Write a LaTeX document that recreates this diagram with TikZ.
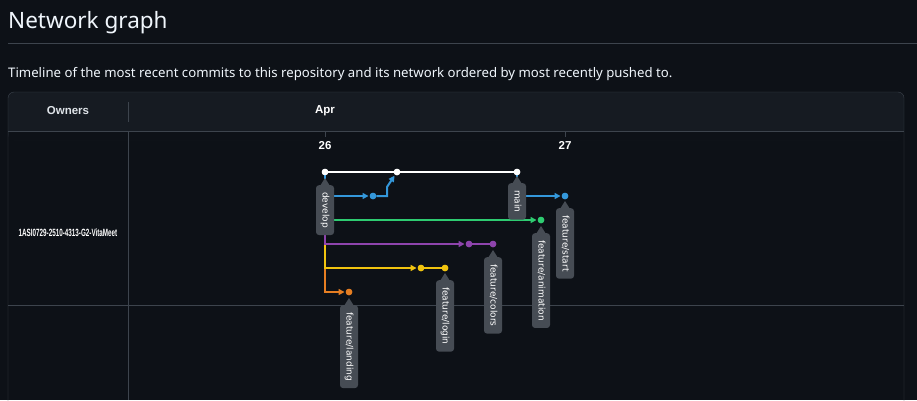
\documentclass[tikz,border=0pt]{standalone}
\usepackage{fontspec}
\setmainfont{Noto Sans}
\newfontfamily\arialfont{Liberation Sans}
\newfontfamily\tagfont{DejaVu Sans}
\usepackage{xcolor}
\usetikzlibrary{arrows.meta,positioning,calc}

\definecolor{pagebg}{HTML}{0D1117}
\definecolor{headbg}{HTML}{161B22}
\definecolor{gridline}{HTML}{3D444D}
\definecolor{tagfill}{HTML}{464C54}
\definecolor{txt}{HTML}{F0F6FC}
\definecolor{brblue}{HTML}{3498DB}
\definecolor{brgreen}{HTML}{2ECC71}
\definecolor{brpurple}{HTML}{8E44AD}
\definecolor{bryellow}{HTML}{F1C40F}
\definecolor{brorange}{HTML}{E67E22}

% little pointer on top of a branch tag
\newcommand{\tagtip}[1]{\fill[tagfill] ([xshift=-5pt,yshift=-1pt]#1.west) -- ([yshift=7pt]#1.west) -- ([xshift=5pt,yshift=-1pt]#1.west) -- cycle;}

\begin{document}
\begin{tikzpicture}[
    x=1pt, y=-1pt,
    every node/.style={text=txt},
    hdr/.style={
        font=\arialfont\bfseries\fontsize{11.5}{13}\selectfont,
        inner sep=0pt
    },
    commit/.style={
        circle,
        inner sep=0pt,
        minimum size=6.5pt
    },
    reftag/.style={
        fill=tagfill,
        rounded corners=3pt,
        rotate=-90,
        anchor=west,
        text=white,
        font=\tagfont\fontsize{9}{10}\selectfont,
        inner xsep=7pt,
        inner ysep=0pt,
        minimum height=18pt,
        text height=7pt,
        text depth=2pt
    },
    branch/.style={line width=2pt},
    arrow/.style={line width=2pt, -{Triangle[length=6pt,width=6pt]}, shorten >=1pt}
]

\useasboundingbox (0,0) rectangle (917,400);
\fill[pagebg] (0,0) rectangle (917,400);

% Page heading
\node[anchor=base west, inner sep=0pt, font=\fontsize{22.5}{28}\selectfont] (title) at (8,28) {Network graph};
\draw[gridline] (8,43) -- (917,43);
\node[anchor=base west, inner sep=0pt, font=\fontsize{13.2}{16}\selectfont] (subtitle) at (8,77)
    {Timeline of the most recent commits to this repository and its network ordered by most recently pushed to.};

% Table frame
\fill[headbg, rounded corners=6pt] (8,92) rectangle (904,140);
\fill[pagebg] (8.5,131) rectangle (903.5,140);
\draw[gridline, rounded corners=6pt] (8,420) |- (904,92) -- (904,420);
\draw[gridline] (8,131) -- (904,131);
\draw[gridline] (8,305) -- (904,305);
\draw[gridline] (128,131) -- (128,400);
\draw[gridline] (128,102) -- (128,122);
\draw[gridline] (325,131) -- (325,137);
\draw[gridline] (565,131) -- (565,137);

% Header and dates
\node[hdr, text=txt!85!gray] (owners) at (68,111) {Owners};
\node[hdr, text=white] (month) at (325,111) {Apr};
\node[hdr, text=white] (day26) at (325,145.5) {26};
\node[hdr, text=white] (day27) at (565,145.5) {27};

\node[inner sep=0pt, text=white, font=\arialfont\bfseries\fontsize{10.5}{12}\selectfont] (owner) at (68,233)
    {\scalebox{0.6}[1]{1ASI0729-2510-4313-G2-VitaMeet}};

% Commits
\node[commit, fill=white]     (cDev)   at (325,172) {};
\node[commit, fill=white]     (cMerge) at (397,172) {};
\node[commit, fill=white]     (cMain)  at (517,172) {};
\node[commit, fill=brblue]    (cB1)    at (373,196) {};
\node[commit, fill=brblue]    (cStart) at (565,196) {};
\node[commit, fill=brgreen]   (cAnim)  at (541,220) {};
\node[commit, fill=brpurple]  (cP1)    at (469,244) {};
\node[commit, fill=brpurple]  (cP2)    at (493,244) {};
\node[commit, fill=bryellow]  (cY1)    at (421,268) {};
\node[commit, fill=bryellow]  (cY2)    at (445,268) {};
\node[commit, fill=brorange]  (cLand)  at (349,292) {};

% Branch lines
\draw[arrow, brorange] (cDev) |- (cLand);
\draw[arrow, bryellow] (cDev) |- (cY1);
\draw[branch, bryellow] (cY1) -- (cY2);
\draw[arrow, brpurple] (cDev) |- (cP1);
\draw[branch, brpurple] (cP1) -- (cP2);
\draw[arrow, brgreen] (cDev) |- (cAnim);
\draw[arrow, brblue] (cDev) |- (cB1);
\draw[arrow, brblue] (cB1) -- (387,196) -- (387,187) -- (cMerge);
\draw[arrow, brblue] (cMain) |- (cStart);
\draw[branch, white] (cDev) -- (cMerge) -- (cMain);

% redraw commits over the lines
\foreach \c/\col in {cDev/white,cMerge/white,cMain/white,cB1/brblue,cStart/brblue,cAnim/brgreen,cP1/brpurple,cP2/brpurple,cY1/bryellow,cY2/bryellow,cLand/brorange}
    \fill[\col] (\c) circle (3.25pt);

% Branch tags
\node[reftag] (tDev)   at ([yshift=-13pt]cDev)   {develop};
\node[reftag] (tMain)  at ([yshift=-11pt]cMain)  {main};
\node[reftag] (tStart) at ([yshift=-12pt]cStart) {feature/start};
\node[reftag] (tAnim)  at ([yshift=-13pt]cAnim)  {feature/animation};
\node[reftag] (tCol)   at ([yshift=-13pt]cP2)    {feature/colors};
\node[reftag] (tLog)   at ([yshift=-12pt]cY2)    {feature/login};
\node[reftag] (tLand)  at ([yshift=-13pt]cLand)  {feature/landing};

\foreach \t in {tDev,tMain,tStart,tAnim,tCol,tLog,tLand}
    {\tagtip{\t}}

\end{tikzpicture}
\end{document}
